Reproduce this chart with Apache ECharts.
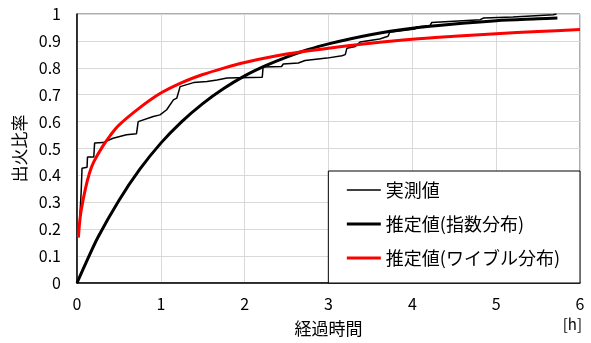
<!DOCTYPE html>
<html><head><meta charset="utf-8">
<script src="https://cdn.jsdelivr.net/npm/echarts@6/dist/echarts.min.js"></script>
<style>html,body{margin:0;padding:0;background:#fff}#c{width:591px;height:343px}</style>
</head><body><div id="c"></div>
<script>
// 実測値 (observed, step-like)
const observed = [[0.02,0.17],[0.05,0.34],[0.06,0.427],[0.12,0.43],[0.125,0.468],[0.2,0.468],[0.21,0.52],[0.31,0.522],[0.43,0.538],[0.59,0.551],[0.71,0.555],[0.73,0.60],[0.91,0.619],[0.99,0.625],[1.07,0.644],[1.15,0.681],[1.19,0.687],[1.23,0.73],[1.39,0.745],[1.55,0.749],[1.67,0.755],[1.79,0.762],[2.21,0.765],[2.22,0.803],[2.44,0.805],[2.46,0.814],[2.64,0.818],[2.66,0.824],[2.72,0.827],[2.74,0.834],[2.98,0.836],[3.16,0.845],[3.2,0.849],[3.22,0.873],[3.32,0.879],[3.376,0.896],[3.61,0.907],[3.71,0.917],[3.73,0.932],[4.03,0.944],[4.05,0.952],[4.21,0.956],[4.23,0.968],[4.81,0.979],[4.85,0.985],[5.2,0.989],[5.68,0.997],[5.72,1.0]];
// 推定値(指数分布)
const expFit = [[0,0],[0.1,0.07],[0.25,0.17],[0.5,0.307],[0.75,0.423],[1,0.52],[1.25,0.6],[1.5,0.667],[1.75,0.723],[2,0.77],[2.25,0.808],[2.5,0.84],[2.75,0.867],[3,0.889],[3.5,0.923],[4,0.947],[4.5,0.963],[5,0.975],[5.5,0.982],[5.73,0.985]];
// 推定値(ワイブル分布)
const weibullFit = [[0.017,0.17],[0.03,0.22],[0.05,0.27],[0.1,0.35],[0.15,0.41],[0.2,0.45],[0.3,0.505],[0.4,0.55],[0.5,0.587],[0.75,0.652],[1,0.706],[1.25,0.745],[1.5,0.775],[1.75,0.799],[2,0.82],[2.5,0.851],[3,0.873],[3.5,0.891],[4,0.906],[4.5,0.917],[5,0.927],[5.5,0.935],[6,0.942]];
const seriesNames = ['実測値','推定値(指数分布)','推定値(ワイブル分布)'];
const xTicks = {min:0,max:6,interval:1};
const yTicks = {min:0,max:1,interval:0.1};

const FONT = '"Noto Sans CJK JP", "Noto Sans", sans-serif';
const chart = echarts.init(document.getElementById('c'), null, {renderer:'canvas'});
chart.setOption({
  animation:false,
  backgroundColor:'#fff',
  textStyle:{fontFamily:FONT},
  grid:{left:77,right:11,top:14,bottom:60,show:true,borderColor:'#595959',borderWidth:1},
  xAxis:{type:'value',min:xTicks.min,max:xTicks.max,interval:xTicks.interval,
    name:'経過時間',nameLocation:'middle',nameGap:37,
    nameTextStyle:{fontSize:17,color:'#000',fontFamily:FONT},
    axisLine:{lineStyle:{color:'#000',width:1.5}},axisTick:{show:false},
    axisLabel:{fontSize:16,color:'#000',margin:13,fontFamily:FONT},
    splitLine:{lineStyle:{color:'#d9d9d9',width:1}}},
  yAxis:{type:'value',min:yTicks.min,max:yTicks.max,interval:yTicks.interval,
    name:'出火比率',nameLocation:'middle',nameRotate:90,nameGap:40,
    nameTextStyle:{fontSize:17,color:'#000',fontFamily:FONT},
    axisLine:{show:true,lineStyle:{color:'#000',width:1.5}},axisTick:{show:false},
    axisLabel:{fontSize:16,color:'#000',margin:16,fontFamily:FONT,formatter:v=>String(+v.toFixed(1))},
    splitLine:{lineStyle:{color:'#d9d9d9',width:1}}},
  legend:{orient:'vertical',right:11,bottom:60,
    backgroundColor:'#fff',borderColor:'#000',borderWidth:1,
    padding:[10,20,16,17],itemGap:16,itemWidth:34,itemHeight:14,
    itemStyle:{opacity:0},
    textStyle:{fontSize:18,color:'#000',fontFamily:FONT},
    data:[
      {name:seriesNames[0],lineStyle:{width:1.5,color:'#000'}},
      {name:seriesNames[1],lineStyle:{width:3,color:'#000'}},
      {name:seriesNames[2],lineStyle:{width:3,color:'#ff0000'}}
    ]},
  graphic:[{type:'text',right:9,top:317,style:{text:'[h]',font:'15px '+FONT,fill:'#000'}}],
  series:[
    {name:seriesNames[0],type:'line',data:observed,symbol:'none',lineStyle:{color:'#000',width:1.5},itemStyle:{color:'#000'},z:2},
    {name:seriesNames[1],type:'line',data:expFit,symbol:'none',smooth:0.3,lineStyle:{color:'#000',width:3},itemStyle:{color:'#000'},z:3},
    {name:seriesNames[2],type:'line',data:weibullFit,symbol:'none',smooth:0.3,lineStyle:{color:'#ff0000',width:3},itemStyle:{color:'#ff0000'},z:4}
  ]
});
</script></body></html>
